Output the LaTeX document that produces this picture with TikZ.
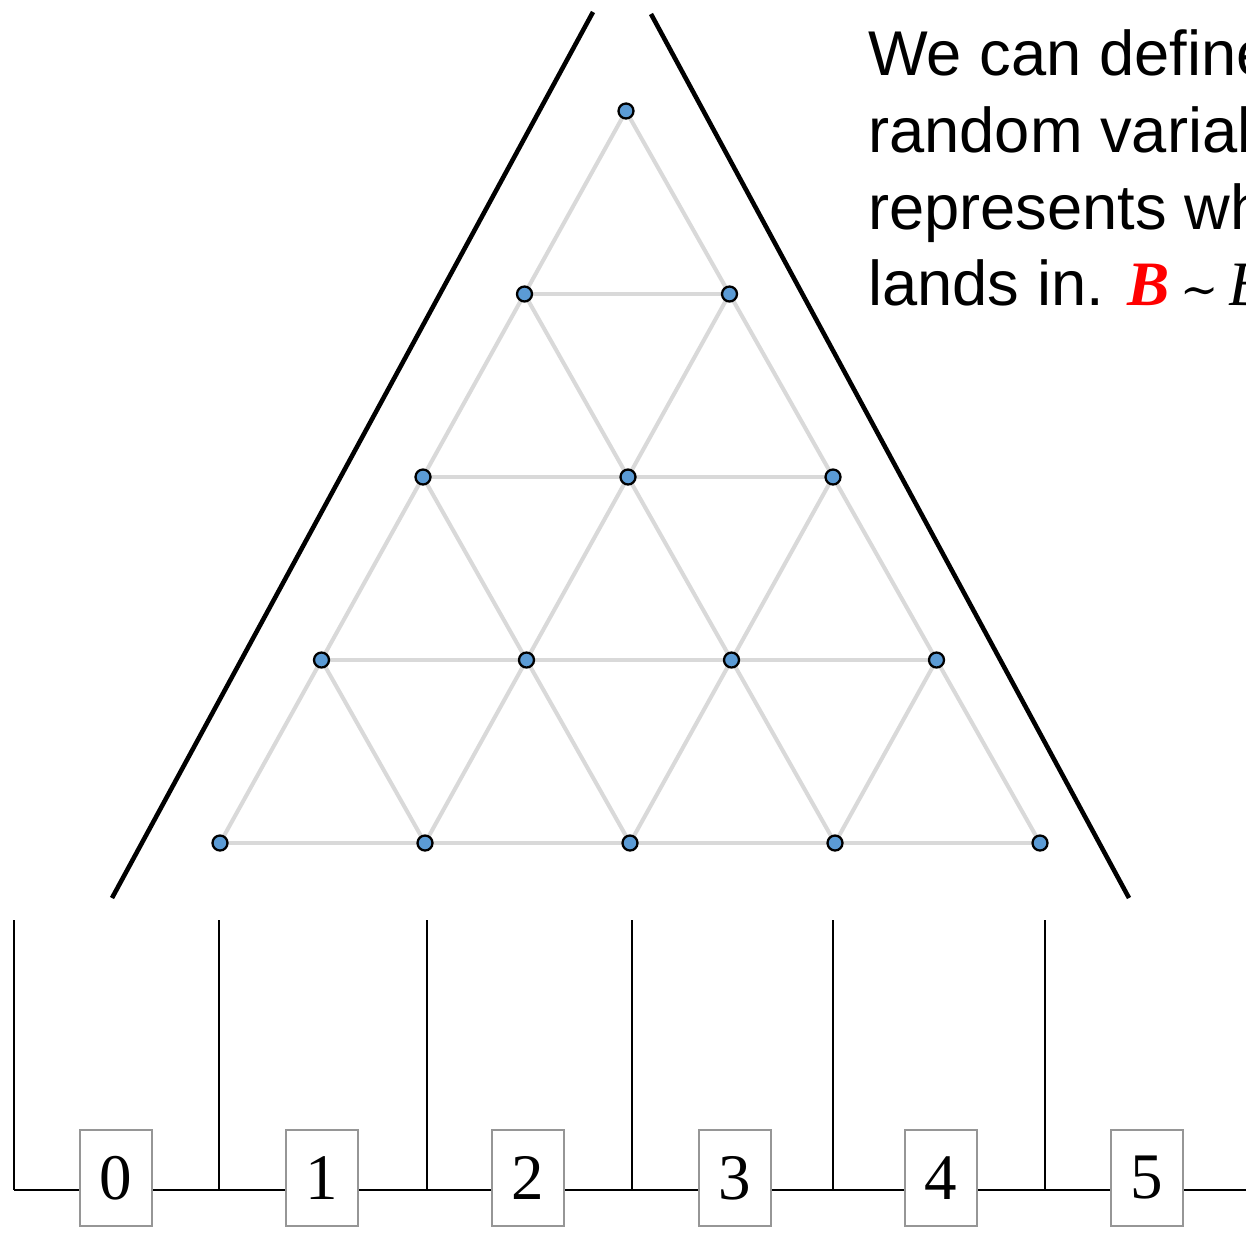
\documentclass[tikz,border=0pt]{standalone}
\usepackage{fontspec}
\setmainfont{Liberation Sans}
\newfontfamily\serifnum{Liberation Serif}
\newfontfamily\symfont{DejaVu Serif}
\usetikzlibrary{positioning,backgrounds}
\definecolor{pegblue}{RGB}{91,155,213}
\definecolor{latgrey}{RGB}{217,217,217}
\definecolor{boxgrey}{RGB}{150,150,150}

\begin{document}
\begin{tikzpicture}[
    x=0.02cm, y=-0.02cm,
    peg/.style={circle, draw=black, line width=1.3pt, fill=pegblue, minimum size=0.3cm, inner sep=0pt},
    lattice/.style={draw=latgrey, line width=2.3pt},
    wall/.style={draw=black, line width=2.6pt},
    bin/.style={draw=black, line width=1.2pt},
    binlabel/.style={rectangle, draw=boxgrey, line width=1.1pt, fill=white, minimum width=1.44cm, minimum height=1.92cm, inner sep=0pt, font=\serifnum\fontsize{37}{40}\selectfont},
    txt/.style={anchor=base west, inner sep=0pt, font=\fontsize{36}{44}\selectfont}
]
\useasboundingbox (0,0) rectangle (1246,1232);
\clip (0,0) rectangle (1246,1232);

% ============ pegs ============
\foreach \r in {0,...,4}{
    \foreach \i in {0,...,\r}{
        \node[peg] (p-\r-\i) at ({626+\r+(\i-\r/2)*205},{111+\r*183}) {};
    }
}

% ============ lattice ============
\begin{scope}[on background layer]
\foreach \r in {0,...,3}{
    \pgfmathtruncatemacro{\nr}{\r+1}
    \foreach \i in {0,...,\r}{
        \pgfmathtruncatemacro{\ni}{\i+1}
        \draw[lattice] (p-\r-\i.center) -- (p-\nr-\i.center);
        \draw[lattice] (p-\r-\i.center) -- (p-\nr-\ni.center);
    }
}
\foreach \r in {1,...,4}{
    \pgfmathtruncatemacro{\last}{\r-1}
    \foreach \i in {0,...,\last}{
        \pgfmathtruncatemacro{\ni}{\i+1}
        \draw[lattice] (p-\r-\i.center) -- (p-\r-\ni.center);
    }
}
\end{scope}

% ============ funnel ============
\coordinate (wl-top) at (593,12);
\coordinate (wl-bot) at (112,898);
\coordinate (wr-top) at (651,14);
\coordinate (wr-bot) at (1129,898);
\draw[wall] (wl-top) -- (wl-bot);
\draw[wall] (wr-top) -- (wr-bot);

% ============ bins ============
\foreach \x [count=\k] in {14,219,427,632,833,1045}{
    \coordinate (bt-\k) at (\x,920);
    \coordinate (bb-\k) at (\x,1190);
    \draw[bin] (bt-\k) -- (bb-\k);
}
\coordinate (floor-end) at (1246,1190);
\draw[bin] (bb-1) -- (floor-end);

\foreach \x [count=\k from 0] in {116,322,528,735,941,1147}{
    \node[binlabel] (lab-\k) at (\x,1178) {\k};
}

% ============ text ============
\node[txt] (line-1) at (868,75) {We can define};
\node[txt] (line-2) at (868,152) {random variable};
\node[txt] (line-3) at (868,229) {represents wh};
\node[txt] (line-4) at (868,305) {lands in. {\serifnum\color{red}\bfseries\itshape B}\,{\symfont\fontsize{26}{30}\selectfont ∼}\,{\serifnum\itshape B}};

\end{tikzpicture}
\end{document}
